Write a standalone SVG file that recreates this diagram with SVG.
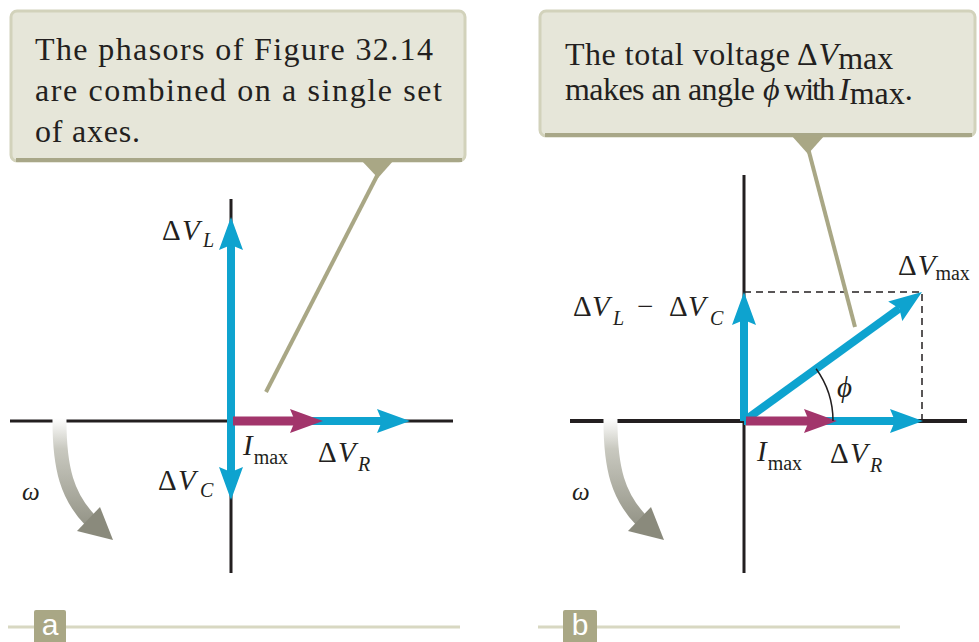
<svg xmlns="http://www.w3.org/2000/svg" width="979" height="642" viewBox="0 0 979 642">
<defs>
<style>
.cap{font-family:"Liberation Serif","Times New Roman",serif;font-size:32px;fill:#231f20}
.m{font-family:"Liberation Serif","Times New Roman",serif;font-size:29px;fill:#231f20}
.sub{font-size:20px}
.it{font-style:italic}
.om{font-family:"Liberation Serif","Times New Roman",serif;font-size:25px;font-style:italic;fill:#231f20}
.box{fill:#e6e6d9;stroke:#d2d2bb;stroke-width:3}
.shadow{stroke:#a8a788;stroke-width:4;fill:none}
.lead{stroke:#a9a785;stroke-width:4;fill:none}
.tri{fill:#a9a785}
.axis{stroke:#231f20;fill:none}
.cy{stroke:#0ea3cf;stroke-width:8;fill:none}
.mg{stroke:#a2356b;stroke-width:9;fill:none}
.dash{stroke:#231f20;stroke-width:1.5;fill:none;stroke-dasharray:7 5}
.rot{stroke:url(#gg);stroke-width:14;fill:none}
.tag{fill:#a9a785}
.tagt{font-family:"Liberation Sans",Arial,sans-serif;font-size:30px;fill:#ffffff;text-anchor:middle}
.rule{stroke:#d8d8c2;stroke-width:3}
</style>
<marker id="hc" markerUnits="userSpaceOnUse" viewBox="0 0 33 24" refX="5" refY="12" markerWidth="33" markerHeight="24" orient="auto"><path d="M0,0 L33,12 L0,24 L5,12 Z" fill="#0ea3cf"/></marker>
<marker id="hm" markerUnits="userSpaceOnUse" viewBox="0 0 33 24" refX="5" refY="12" markerWidth="33" markerHeight="24" orient="auto"><path d="M0,0 L33,12 L0,24 L5,12 Z" fill="#a2356b"/></marker>
<linearGradient id="gg" gradientUnits="userSpaceOnUse" x1="0" y1="418" x2="0" y2="540">
<stop offset="0" stop-color="#ffffff"/><stop offset="0.25" stop-color="#c9c9c0"/><stop offset="1" stop-color="#8a8a7c"/>
</linearGradient>
</defs>
<rect width="979" height="642" fill="#ffffff"/>

<!-- Panel a -->
<g id="callout-a">
<rect class="box" x="11" y="11" width="454" height="150" rx="6"/>
<line class="shadow" x1="16" y1="160" x2="462" y2="160"/>
<polygon class="tri" points="361,160 394,160 378,178"/>
<text class="cap" x="35" y="60" textLength="398">The phasors of Figure 32.14</text>
<text class="cap" x="35" y="101" textLength="407">are combined on a single set</text>
<text class="cap" x="35" y="142" textLength="105">of axes.</text>
</g>
<g id="axes-a">
<line class="axis" stroke-width="3" x1="10" y1="421" x2="453" y2="421"/>
<line class="axis" stroke-width="3" x1="231" y1="199" x2="231" y2="573"/>
</g>
<g id="rotation-a">
<path class="rot" d="M59.5,417 C59,470 68,497 90,520"/>
<polygon points="77,531 100,507 113,540" fill="#8a8a7c"/>
<text class="om" x="22" y="500">ω</text>
</g>
<g id="phasor-VR-a"><line class="cy" x1="231" y1="421" x2="382" y2="421" marker-end="url(#hc)"/>
<text class="m" x="318" y="462">Δ<tspan class="it" x="338">V</tspan><tspan class="it sub" x="358" dy="9">R</tspan></text></g>
<g id="phasor-VL-a"><line class="cy" x1="231" y1="421" x2="231" y2="245" marker-end="url(#hc)"/>
<text class="m" x="162" y="240">Δ<tspan class="it" x="182">V</tspan><tspan class="it sub" x="203" dy="7">L</tspan></text></g>
<g id="phasor-VC-a"><line class="cy" x1="231" y1="421" x2="231" y2="472" marker-end="url(#hc)"/>
<text class="m" x="158" y="490">Δ<tspan class="it" x="178">V</tspan><tspan class="it sub" x="200" dy="7">C</tspan></text></g>
<g id="phasor-I-a"><line class="mg" x1="233" y1="421" x2="295" y2="421" marker-end="url(#hm)"/>
<text class="m" x="243" y="455"><tspan class="it">I</tspan><tspan class="sub" dx="1" dy="9">max</tspan></text></g>
<g id="tag-a">
<line class="rule" x1="8" y1="627" x2="460" y2="627"/>
<rect class="tag" x="34" y="610" width="32" height="34" rx="2"/>
<text class="tagt" x="50" y="635">a</text>
</g>

<!-- Panel b -->
<g id="callout-b">
<rect class="box" x="540" y="11" width="435" height="125" rx="6"/>
<line class="shadow" x1="545" y1="135" x2="972" y2="135"/>
<polygon class="tri" points="791,135 825,135 808,154"/>
<text class="cap" x="565" y="65" textLength="225">The total voltage</text>
<text class="cap" x="797" y="65">Δ<tspan class="it" dx="1">V</tspan><tspan dy="4">max</tspan></text>
<text class="cap" x="565" y="100" textLength="190">makes an angle</text>
<text class="cap it" x="763" y="100">ϕ</text>
<text class="cap" x="784" y="100" textLength="51">with</text>
<text class="cap" x="839" y="100"><tspan class="it">I</tspan><tspan dy="4">max</tspan><tspan dy="-4">.</tspan></text>
</g>
<g id="axes-b">
<line class="axis" stroke-width="4" x1="570" y1="421" x2="967" y2="421"/>
<line class="axis" stroke-width="3" x1="744" y1="175" x2="744" y2="573"/>
<path class="dash" d="M744,292 H922 V421"/>
</g>
<g id="rotation-b" transform="translate(551,0)">
<path class="rot" d="M59.5,417 C59,470 68,497 90,520"/>
<polygon points="77,531 100,507 113,540" fill="#8a8a7c"/>
<text class="om" x="21" y="500">ω</text>
</g>
<g id="phasor-VR-b"><line class="cy" x1="744" y1="421" x2="895" y2="421" marker-end="url(#hc)"/>
<text class="m" x="830" y="463">Δ<tspan class="it" x="850">V</tspan><tspan class="it sub" x="870" dy="9">R</tspan></text></g>
<g id="phasor-VLC-b"><line class="cy" x1="744" y1="421" x2="744" y2="320" marker-end="url(#hc)"/>
<text class="m" x="573" y="316">Δ<tspan class="it" x="592">V</tspan><tspan class="it sub" x="613" dy="9">L</tspan><tspan dy="-9" x="637">−</tspan><tspan x="669">Δ</tspan><tspan class="it" x="688">V</tspan><tspan class="it sub" x="710" dy="9">C</tspan></text></g>
<g id="phasor-Vmax-b"><line class="cy" x1="744" y1="421" x2="899.3" y2="308.4" marker-end="url(#hc)"/>
<text class="m" x="898" y="275">Δ<tspan class="it" dx="1">V</tspan><tspan class="sub" dy="5">max</tspan></text></g>
<g id="phasor-I-b"><line class="mg" x1="746" y1="421" x2="809" y2="421" marker-end="url(#hm)"/>
<text class="m" x="757" y="461"><tspan class="it">I</tspan><tspan class="sub" dx="1" dy="9">max</tspan></text></g>
<g id="angle-phi">
<path d="M833,421 A89,89 0 0 0 816.1,368.8" stroke="#231f20" stroke-width="1.5" fill="none"/>
<text class="m it" x="837" y="397">ϕ</text>
</g>
<g id="tag-b">
<line class="rule" x1="538" y1="627" x2="900" y2="627"/>
<rect class="tag" x="563" y="610" width="34" height="34" rx="2"/>
<text class="tagt" x="580" y="635">b</text>
</g>

<g id="connectors">
<line class="lead" x1="379" y1="172" x2="266" y2="392"/>
<line class="lead" x1="808" y1="148" x2="855" y2="327"/>
</g>
</svg>
